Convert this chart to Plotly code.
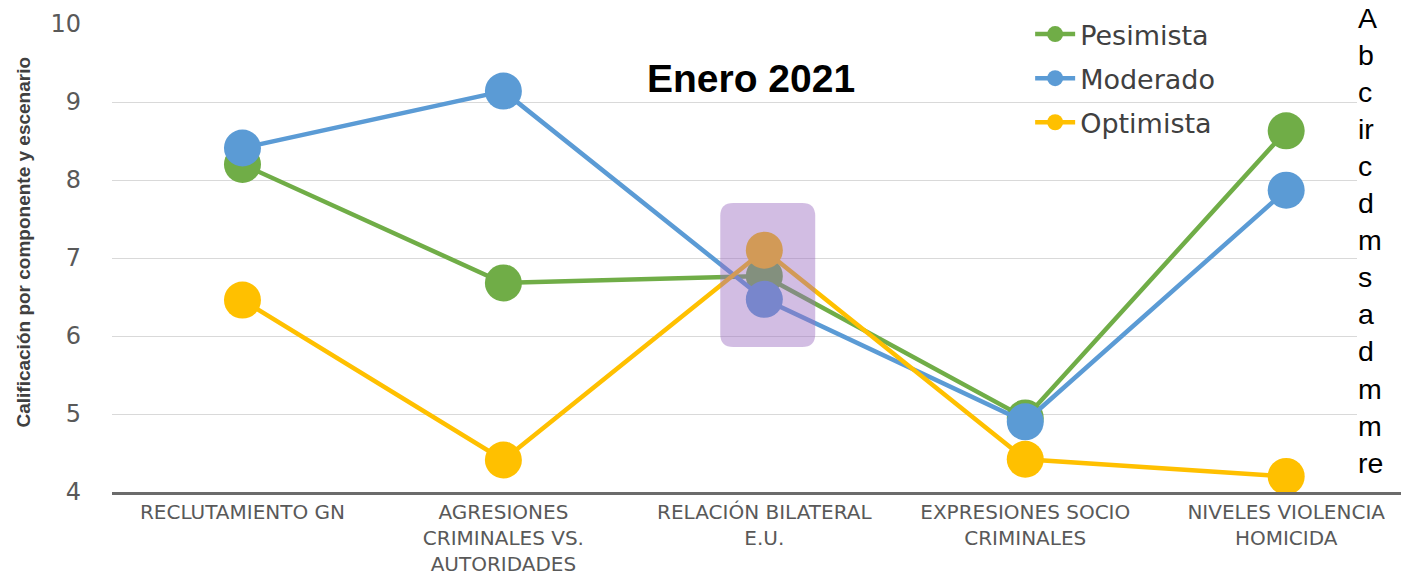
import plotly.graph_objects as go

# ---- data ----
categories = [
    "RECLUTAMIENTO GN",
    "AGRESIONES<br>CRIMINALES VS.<br>AUTORIDADES",
    "RELACIÓN BILATERAL<br>E.U.",
    "EXPRESIONES SOCIO<br>CRIMINALES",
    "NIVELES VIOLENCIA<br>HOMICIDA",
]
pesimista = [8.2, 6.68, 6.77, 4.95, 8.63]
moderado = [8.41, 9.14, 6.47, 4.9, 7.87]
optimista = [6.46, 4.41, 7.1, 4.42, 4.2]
series_names = ["Pesimista", "Moderado", "Optimista"]
series_colors = ["#70AD47", "#5B9BD5", "#FFC000"]
y_ticks = [4, 5, 6, 7, 8, 9, 10]
title_text = "Enero 2021"
y_title = "Calificación por componente y escenario"
side_text = ["A", "b", "c", "ir", "c", "d", "m", "s", "a", "d", "m", "m", "re"]

W, H = 1401, 576
L, R, T, B = 111.5, 0, 24, 84
PW, PH = W - L - R, H - T - B


def px(x):
    return (x - L) / PW


def py(y):
    return (H - B - y) / PH


x_idx = list(range(len(categories)))

fig = go.Figure()
for i, (name, vals, col) in enumerate(zip(series_names, [pesimista, moderado, optimista], series_colors)):
    fig.add_trace(go.Scatter(
        x=x_idx, y=vals, name=name, mode="lines+markers",
        line=dict(color=col, width=4.5),
        marker=dict(color=col, size=37),
        legendgroup=name,
    ))

shapes = []
# highlight rounded rectangle around third category
x0, x1, y0, y1 = px(720), px(815), py(347), py(203)
rx, ry = 13 / PW, 13 / PH
path = (f"M {x0+rx},{y0} L {x1-rx},{y0} Q {x1},{y0} {x1},{y0+ry} "
        f"L {x1},{y1-ry} Q {x1},{y1} {x1-rx},{y1} L {x0+rx},{y1} "
        f"Q {x0},{y1} {x0},{y1-ry} L {x0},{y0+ry} Q {x0},{y0} {x0+rx},{y0} Z")
shapes.append(dict(type="path", path=path, xref="paper", yref="paper",
                   fillcolor="#9B6DC1", opacity=0.45, line=dict(width=0), layer="above"))
# white box behind the clipped side text
shapes.append(dict(type="rect", xref="paper", yref="paper",
                   x0=px(1357), x1=px(1405), y0=py(489), y1=py(-5),
                   fillcolor="white", line=dict(width=0), layer="above"))

annotations = []
annotations.append(dict(text=f"<b>{title_text}</b>", x=px(751), y=py(78), xref="paper", yref="paper",
                        showarrow=False, xanchor="center", yanchor="middle",
                        font=dict(family="Liberation Sans", size=39, color="#000000")))
annotations.append(dict(text=f"<b>{y_title}</b>", x=px(22), y=py(242), xref="paper", yref="paper",
                        showarrow=False, textangle=-90, xanchor="center", yanchor="middle",
                        font=dict(family="Liberation Sans", size=19, color="#404040")))
annotations.append(dict(text="<br>".join(side_text), x=px(1356), y=py(0), xref="paper", yref="paper",
                        showarrow=False, xanchor="left", yanchor="top", align="left",
                        font=dict(family="Liberation Sans", size=28.5, color="#000000")))

fig.update_layout(
    width=W, height=H,
    margin=dict(l=L, r=R, t=T, b=B, autoexpand=False),
    paper_bgcolor="white", plot_bgcolor="white",
    showlegend=True,
    legend=dict(x=px(1030), y=py(10), xanchor="left", yanchor="top",
                font=dict(family="DejaVu Sans", size=27, color="#404040"),
                bgcolor="rgba(0,0,0,0)", tracegroupgap=6, itemwidth=40),
    shapes=shapes,
    annotations=annotations,
)
fig.update_xaxes(
    range=[-0.5, 4.44], tickvals=x_idx, ticktext=categories,
    showgrid=False, zeroline=False, showline=True, linecolor="#6b6b6b", linewidth=2.5,
    ticks="", tickfont=dict(family="DejaVu Sans", size=20, color="#595959"),
)
fig.update_yaxes(
    range=[4, 10], tickvals=y_ticks, showgrid=True, gridcolor="#d9d9d9", gridwidth=1,
    zeroline=False, showline=False, ticks="", ticklabelstandoff=30,
    tickfont=dict(family="DejaVu Sans", size=24, color="#595959"),
)

fig.write_html("out.html", config={"displayModeBar": False},
               post_script="document.body.style.margin='0px';")
